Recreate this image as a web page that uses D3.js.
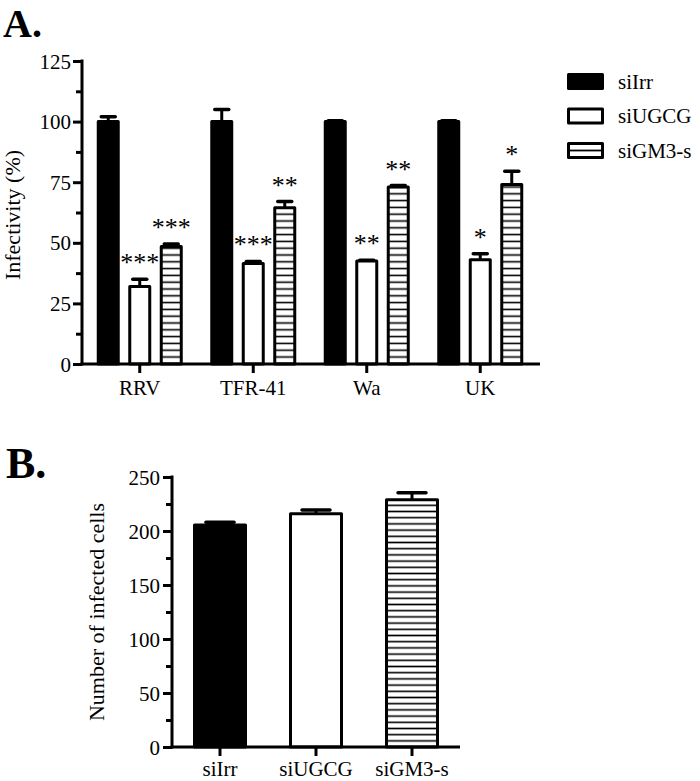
<!DOCTYPE html>
<html>
<head>
<meta charset="utf-8">
<script src="https://cdn.jsdelivr.net/npm/d3@7/dist/d3.min.js"></script>
<style>
  html, body { margin: 0; padding: 0; background: #fff; }
  svg { display: block; }
  text { font-family: "Liberation Serif", "Times New Roman", serif; fill: #000; }
</style>
</head>
<body>
<svg id="chart" width="700" height="781"></svg>
<script>
// ---------- Data ----------
const viruses = ["RRV", "TFR-41", "Wa", "UK"];
const seriesNames = ["siIrr", "siUGCG", "siGM3-s"];
const siIrrValues  = [100, 100, 100, 100];
const siIrrErrors  = [2, 5, 0.3, 0.3];
const siUGCGValues = [32, 41.5, 42.5, 43];
const siUGCGErrors = [3, 0.8, 0.3, 2.5];
const siGM3Values  = [48.5, 64.5, 73, 74];
const siGM3Errors  = [1, 2.5, 0.6, 5.5];
const siUGCGStars  = ["***", "***", "**", "*"];
const siGM3Stars   = ["***", "**", "**", "*"];
const yTicksA = [0, 25, 50, 75, 100, 125];

const cellGroups = ["siIrr", "siUGCG", "siGM3-s"];
const cellValues = [205.5, 216, 229];
const cellErrors = [2.5, 3.5, 6.5];
const yTicksB = [0, 50, 100, 150, 200, 250];

// ---------- Setup ----------
const svg = d3.select("#chart");
const defs = svg.append("defs");
function hatch(id, step) {
  const p = defs.append("pattern").attr("id", id)
    .attr("patternUnits", "userSpaceOnUse")
    .attr("width", 10).attr("height", step);
  p.append("rect").attr("width", 10).attr("height", step).attr("fill", "#fff");
  p.append("line").attr("x1", 0).attr("x2", 10)
    .attr("y1", step / 2).attr("y2", step / 2)
    .attr("stroke", "#000").attr("stroke-width", 1.6);
}
hatch("hatchA", 6.8);
hatch("hatchB", 6.2);

function fillFor(name, hatchId) {
  if (name === "siIrr") return "#000";
  if (name === "siUGCG") return "#fff";
  return "url(#" + hatchId + ")";
}

function styleAxis(g) {
  g.selectAll("path.domain").remove();
  g.selectAll("line").attr("stroke", "#000").attr("stroke-width", 3);
  g.selectAll("text").attr("font-family", "Liberation Serif, serif")
    .attr("font-size", 21).attr("fill", "#000");
}

// ---------- Panel A ----------
const A = { left: 82, right: 540, top: 61, bottom: 364 };
const yA = d3.scaleLinear().domain([0, 125]).range([A.bottom, A.top]);
const xA = d3.scaleBand().domain(viruses).range([83, 537]);
const subA = d3.scalePoint().domain(seriesNames).range([-31.5, 31.5]);
const barWA = 20;

svg.append("text").attr("x", 3).attr("y", 37)
  .attr("font-size", 40).attr("font-weight", "bold").text("A.");

const gA = svg.append("g");

const seriesA = [
  { name: "siIrr", values: siIrrValues, errors: siIrrErrors, stars: viruses.map(() => "") },
  { name: "siUGCG", values: siUGCGValues, errors: siUGCGErrors, stars: siUGCGStars },
  { name: "siGM3-s", values: siGM3Values, errors: siGM3Errors, stars: siGM3Stars }
];
const barsA = [];
seriesA.forEach(s => {
  viruses.forEach((v, i) => {
    barsA.push({ series: s.name, virus: v, value: s.values[i], err: s.errors[i], star: s.stars[i] });
  });
});

// error bars (behind bars)
const errA = gA.append("g");
barsA.forEach(d => {
  const cx = xA(d.virus) + xA.bandwidth() / 2 + subA(d.series);
  errA.append("line").attr("x1", cx).attr("x2", cx)
    .attr("y1", yA(d.value)).attr("y2", yA(d.value + d.err))
    .attr("stroke", "#000").attr("stroke-width", 3);
  errA.append("line").attr("x1", cx - 7).attr("x2", cx + 7)
    .attr("y1", yA(d.value + d.err)).attr("y2", yA(d.value + d.err))
    .attr("stroke", "#000").attr("stroke-width", 3.5).attr("stroke-linecap", "round");
});

gA.append("g").selectAll("rect").data(barsA).join("rect")
  .attr("x", d => xA(d.virus) + xA.bandwidth() / 2 + subA(d.series) - barWA / 2)
  .attr("y", d => yA(d.value))
  .attr("width", barWA)
  .attr("height", d => yA(0) - yA(d.value))
  .attr("fill", d => fillFor(d.series, "hatchA"))
  .attr("stroke", "#000").attr("stroke-width", 3).attr("stroke-linejoin", "round");

gA.append("g").selectAll("text").data(barsA.filter(d => d.star)).join("text")
  .attr("x", d => xA(d.virus) + xA.bandwidth() / 2 + subA(d.series))
  .attr("y", d => yA(d.value + d.err) - 23 + 15)
  .attr("text-anchor", "middle")
  .attr("font-family", "Liberation Sans, sans-serif")
  .attr("font-size", 26)
  .text(d => d.star);

// axes A
const yAxisA = gA.append("g").attr("transform", `translate(${A.left},0)`)
  .call(d3.axisLeft(yA).tickValues(yTicksA).tickSize(9).tickPadding(2).tickSizeOuter(0));
styleAxis(yAxisA);
yAxisA.selectAll("text").attr("dy", "0.34em");
const yMinorA = gA.append("g").attr("transform", `translate(${A.left},0)`)
  .call(d3.axisLeft(yA).tickValues([12.5, 37.5, 62.5, 87.5, 112.5]).tickSize(6).tickFormat(""));
styleAxis(yMinorA);

const xAxisA = gA.append("g").attr("transform", `translate(0,${A.bottom})`)
  .call(d3.axisBottom(xA).tickSize(9).tickPadding(7).tickSizeOuter(0));
styleAxis(xAxisA);

gA.append("line").attr("x1", A.left).attr("x2", A.left)
  .attr("y1", A.top - 1.5).attr("y2", A.bottom + 1.5)
  .attr("stroke", "#000").attr("stroke-width", 3);
gA.append("line").attr("x1", A.left - 1.5).attr("x2", A.right)
  .attr("y1", A.bottom).attr("y2", A.bottom)
  .attr("stroke", "#000").attr("stroke-width", 3);

svg.append("text").attr("transform", `translate(20,215) rotate(-90)`)
  .attr("text-anchor", "middle").attr("font-size", 22).text("Infectivity (%)");

// legend
const legend = svg.append("g");
seriesNames.forEach((n, i) => {
  const cy = 81.5 + i * 34.5;
  legend.append("rect").attr("x", 568.5).attr("y", cy - 7).attr("width", 34).attr("height", 14)
    .attr("fill", n === "siIrr" ? "#000" : (n === "siUGCG" ? "#fff" : "none"))
    .attr("stroke", "#000").attr("stroke-width", 3).attr("stroke-linejoin", "round");
  if (n === "siGM3-s") {
    legend.append("line").attr("x1", 570).attr("x2", 601).attr("y1", cy).attr("y2", cy)
      .attr("stroke", "#000").attr("stroke-width", 1.8);
  }
  legend.append("text").attr("x", 618).attr("y", cy + 7).attr("font-size", 21).text(n);
});

// ---------- Panel B ----------
const B = { left: 172, right: 460, top: 477, bottom: 747 };
const yB = d3.scaleLinear().domain([0, 250]).range([B.bottom, B.top]);
const xB = d3.scaleBand().domain(cellGroups).range([172, 460]);
const barWB = 51;

svg.append("text").attr("x", 6).attr("y", 478)
  .attr("font-size", 44).attr("font-weight", "bold").text("B.");

const gB = svg.append("g");
const barsB = cellGroups.map((g, i) => ({ name: g, value: cellValues[i], err: cellErrors[i] }));

barsB.forEach(d => {
  const cx = xB(d.name) + xB.bandwidth() / 2;
  gB.append("line").attr("x1", cx).attr("x2", cx)
    .attr("y1", yB(d.value)).attr("y2", yB(d.value + d.err))
    .attr("stroke", "#000").attr("stroke-width", 3);
  gB.append("line").attr("x1", cx - 14).attr("x2", cx + 14)
    .attr("y1", yB(d.value + d.err)).attr("y2", yB(d.value + d.err))
    .attr("stroke", "#000").attr("stroke-width", 3.5).attr("stroke-linecap", "round");
});

gB.append("g").selectAll("rect").data(barsB).join("rect")
  .attr("x", d => xB(d.name) + xB.bandwidth() / 2 - barWB / 2)
  .attr("y", d => yB(d.value))
  .attr("width", barWB)
  .attr("height", d => yB(0) - yB(d.value))
  .attr("fill", d => fillFor(d.name, "hatchB"))
  .attr("stroke", "#000").attr("stroke-width", 3).attr("stroke-linejoin", "round");

const yAxisB = gB.append("g").attr("transform", `translate(${B.left},0)`)
  .call(d3.axisLeft(yB).tickValues(yTicksB).tickSize(9).tickPadding(3).tickSizeOuter(0));
styleAxis(yAxisB);
yAxisB.selectAll("text").attr("dy", "0.34em");
const yMinorB = gB.append("g").attr("transform", `translate(${B.left},0)`)
  .call(d3.axisLeft(yB).tickValues([25, 75, 125, 175, 225]).tickSize(6).tickFormat(""));
styleAxis(yMinorB);

const xAxisB = gB.append("g").attr("transform", `translate(0,${B.bottom})`)
  .call(d3.axisBottom(xB).tickSize(9).tickPadding(5).tickSizeOuter(0));
styleAxis(xAxisB);

gB.append("line").attr("x1", B.left).attr("x2", B.left)
  .attr("y1", B.top - 1.5).attr("y2", B.bottom + 1.5)
  .attr("stroke", "#000").attr("stroke-width", 3);
gB.append("line").attr("x1", B.left - 1.5).attr("x2", B.right)
  .attr("y1", B.bottom).attr("y2", B.bottom)
  .attr("stroke", "#000").attr("stroke-width", 3);

svg.append("text").attr("transform", `translate(104,612) rotate(-90)`)
  .attr("text-anchor", "middle").attr("font-size", 22).text("Number of infected cells");
</script>
</body>
</html>
